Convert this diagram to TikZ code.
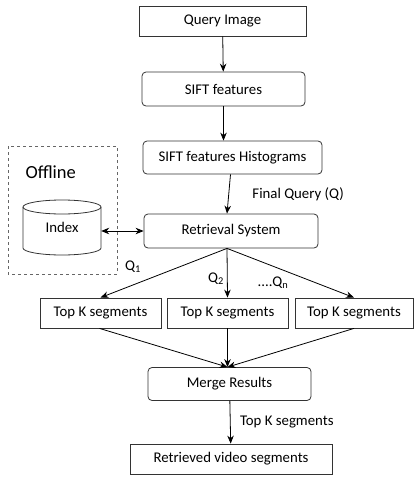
\documentclass[tikz,border=0pt]{standalone}
\usepackage{fontspec}
\setmainfont{Carlito}
\usetikzlibrary{positioning,arrows.meta}

\begin{document}
\begin{tikzpicture}[>={Stealth[length=8pt,width=6.5pt]}, x=1pt, y=-1pt,
  font=\fontsize{14.8}{17}\selectfont,
  box/.style={draw=black!80, line width=0.8pt, minimum height=30pt, inner sep=0pt},
  rbox/.style={box, rounded corners=4pt, minimum height=34pt},
  pijl/.style={->, line width=0.8pt}]
  \useasboundingbox (0,0) rectangle (414,479);

  % blokken
  \node[box, minimum width=167pt] (query) at (222.5,21) {Query Image};
  \node[rbox, minimum width=163pt] (sift) at (223.5,89) {SIFT features};
  \node[rbox, minimum width=179pt, minimum height=33pt] (hist) at (232.5,157.5) {SIFT features Histograms};
  \node[rbox, minimum width=174pt] (retr) at (231,231) {Retrieval System};

  % offline deel
  \draw[dashed, line width=0.8pt, draw=black!60] (8,146) rectangle (117,274);
  \node[font=\fontsize{18.5}{20}\selectfont, anchor=west] (offline) at (22,172) {Offline};
  \draw[draw=black!80, line width=0.8pt]
    (23,207) -- (23,248) arc[start angle=180, end angle=0, x radius=39, y radius=7] -- (101,207);
  \draw[draw=black!80, line width=0.8pt] (62,207) ellipse[x radius=39, y radius=7];
  \node[minimum width=78pt, minimum height=50pt, inner sep=0pt] (index) at (62,227) {Index};

  % top k
  \node[box, minimum width=121pt] (topa) at (100.5,313) {Top K segments};
  \node[box, minimum width=121pt] (topb) at (227.5,313) {Top K segments};
  \node[box, minimum width=118pt] (topc) at (354,313) {Top K segments};

  \node[rbox, minimum width=163pt, minimum height=33pt] (merge) at (229.5,384) {Merge Results};
  \node[box, minimum width=202pt] (final) at (231,459) {Retrieved video segments};

  % pijlen
  \draw[pijl] (query) -- (sift);
  \draw[pijl] (sift.south) -- (sift.south |- hist.north);
  \draw[pijl] ([xshift=-2pt]hist.south) -- ([xshift=-4pt]retr.north)
    node[pos=0.5, right=20pt] {Final Query (Q)};
  \draw[<->, line width=0.8pt] (index.east |- retr.west) -- (retr.west);

  \coordinate (split) at ([xshift=-4pt]retr.south);
  \draw[pijl] (split) -- (topa.north);
  \draw[pijl] (split) -- (topb.north);
  \draw[pijl] (split) -- (topc.north);
  \node (qa) at (133,267) {Q\textsubscript{1}};
  \node (qb) at (216,279) {Q\textsubscript{2}};
  \node (qn) at (273,283) {....Q\textsubscript{n}};

  \coordinate (join) at ([xshift=-2pt]merge.north);
  \draw[pijl] ([xshift=-1pt]topa.south) -- (join);
  \draw[pijl] (topb.south) -- (join);
  \draw[pijl] (topc.south) -- (join);

  \draw[pijl] (merge) -- (final) node[pos=0.5, right=6pt] {Top K segments};
\end{tikzpicture}
\end{document}
